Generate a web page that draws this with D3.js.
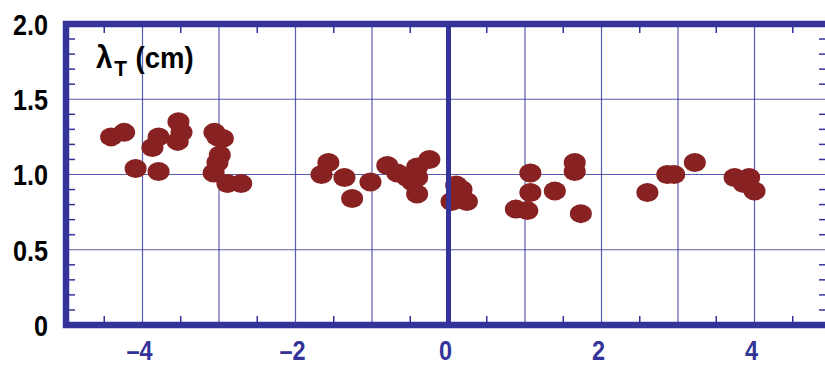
<!DOCTYPE html>
<html>
<head>
<meta charset="utf-8">
<script src="https://cdn.jsdelivr.net/npm/d3@7"></script>
<style>
  body { margin: 0; background: #fff; }
  svg { display: block; }
  .ylab { font-family: "Liberation Sans", Arial, sans-serif; font-weight: bold; font-size: 30px; fill: #000; }
  .xlab { font-family: "Liberation Sans", Arial, sans-serif; font-weight: bold; font-size: 28px; fill: #333399; }
  .title { font-family: "Liberation Sans", Arial, sans-serif; font-weight: bold; font-size: 29px; fill: #000; }
</style>
</head>
<body>
<div id="chart"></div>
<script>
// scatter: x position vs lambda_T (cm)
const xVals = [
  -4.41, -4.24, -4.09, -3.79, -3.87, -3.79, -3.53, -3.49, -3.54,
  -3.06, -3.02, -2.95, -2.99, -3.02, -3.07, -2.89, -2.71,
  -1.66, -1.57, -1.36, -1.26, -1.02, -0.80, -0.67, -0.54, -0.41, -0.41, -0.25, -0.41, -0.47,
  0.10, 0.17, 0.04, 0.24, 1.07, 1.07, 0.88, 1.03, 1.39, 1.65, 1.65, 1.73,
  2.60, 2.86, 2.95, 3.22, 3.74, 3.93, 3.86, 4.00
];
const yVals = [
  1.25, 1.28, 1.04, 1.02, 1.18, 1.25, 1.35, 1.28, 1.22,
  1.28, 1.25, 1.24, 1.13, 1.08, 1.01, 0.94, 0.94,
  1.00, 1.08, 0.98, 0.84, 0.95, 1.06, 1.01, 0.98, 1.05, 0.98, 1.10, 0.87, 0.95,
  0.93, 0.90, 0.82, 0.82, 1.01, 0.88, 0.77, 0.76, 0.89, 1.08, 1.02, 0.74,
  0.88, 1.00, 1.00, 1.08, 0.98, 0.98, 0.94, 0.89
];
const yTicks = [0, 0.5, 1.0, 1.5, 2.0];
const xTicks = [-4, -2, 0, 2, 4];
const xGrid = [-4, -3, -2, -1, 1, 2, 3, 4];
const xMinor = [-4.5, -3.5, -2.5, -1.5, -0.5, 0.5, 1.5, 2.5, 3.5, 4.5];
const yMinor = d3.range(1, 20).map(i => i / 10).filter(v => Math.abs(v * 2 - Math.round(v * 2)) > 1e-6);

const W = 825, H = 365;
const blue = '#333399', red = '#882222';
const squeeze = 0.84; // condensed look of the original labels

const x = d3.scaleLinear().domain([-5, 5]).range([66, 831]);
const y = d3.scaleLinear().domain([0, 2]).range([325, 24]);

const svg = d3.select('#chart').append('svg').attr('width', W).attr('height', H);

// grid lines
svg.append('g').selectAll('line').data(xGrid).join('line')
  .attr('x1', d => x(d)).attr('x2', d => x(d))
  .attr('y1', y(0)).attr('y2', y(2))
  .attr('stroke', blue).attr('stroke-width', 1.2).attr('opacity', 0.8);
svg.append('g').selectAll('line').data([0.5, 1.0, 1.5]).join('line')
  .attr('x1', x(-5)).attr('x2', x(5))
  .attr('y1', d => y(d)).attr('y2', d => y(d))
  .attr('stroke', blue).attr('stroke-width', 1.2).attr('opacity', 0.8);

// minor ticks, pointing inward
const tk = svg.append('g').attr('stroke', blue).attr('stroke-width', 1.5);
tk.selectAll('.yl').data(yMinor).join('line')
  .attr('x1', x(-5)).attr('x2', x(-5) + 9)
  .attr('y1', d => y(d)).attr('y2', d => y(d));
tk.selectAll('.yr').data(yMinor).join('line')
  .attr('x1', x(5)).attr('x2', x(5) - 12)
  .attr('y1', d => y(d)).attr('y2', d => y(d));
tk.selectAll('.xb').data(xMinor).join('line')
  .attr('x1', d => x(d)).attr('x2', d => x(d))
  .attr('y1', y(0)).attr('y2', y(0) - 9);
tk.selectAll('.xt').data(xMinor).join('line')
  .attr('x1', d => x(d)).attr('x2', d => x(d))
  .attr('y1', y(2)).attr('y2', y(2) + 9);

// points
svg.append('g').selectAll('ellipse').data(xVals.map((v, i) => [v, yVals[i]])).join('ellipse')
  .attr('cx', d => x(d[0])).attr('cy', d => y(d[1]))
  .attr('rx', 11).attr('ry', 9.5)
  .attr('fill', red);

// zero line and frame
svg.append('line')
  .attr('x1', x(0)).attr('x2', x(0)).attr('y1', y(0)).attr('y2', y(2))
  .attr('stroke', blue).attr('stroke-width', 5);
svg.append('rect')
  .attr('x', x(-5)).attr('y', y(2))
  .attr('width', x(5) - x(-5)).attr('height', y(0) - y(2))
  .attr('fill', 'none').attr('stroke', blue).attr('stroke-width', 6.5);

// tick labels
svg.append('g').selectAll('text').data(yTicks).join('text')
  .attr('class', 'ylab')
  .attr('transform', d => `translate(48,${y(d)}) scale(${squeeze},1)`)
  .attr('dy', '0.36em')
  .attr('text-anchor', 'end')
  .text(d => d === 0 ? '0' : d.toFixed(1));
svg.append('g').selectAll('text').data(xTicks).join('text')
  .attr('class', 'xlab')
  .attr('transform', d => `translate(${x(d) - 3},360) scale(${squeeze},1)`)
  .attr('text-anchor', 'middle')
  .text(d => d < 0 ? '\u2013' + Math.abs(d) : String(d));

// axis title inside plot
const t = svg.append('text').attr('class', 'title')
  .attr('transform', `translate(96,68) scale(0.95,1)`);
t.append('tspan').attr('font-size', 31).text('λ');
t.append('tspan').attr('font-size', 22).attr('dy', 8).attr('dx', 2).text('T');
t.append('tspan').attr('dy', -8).attr('dx', 9).text('(cm)');
</script>
</body>
</html>
